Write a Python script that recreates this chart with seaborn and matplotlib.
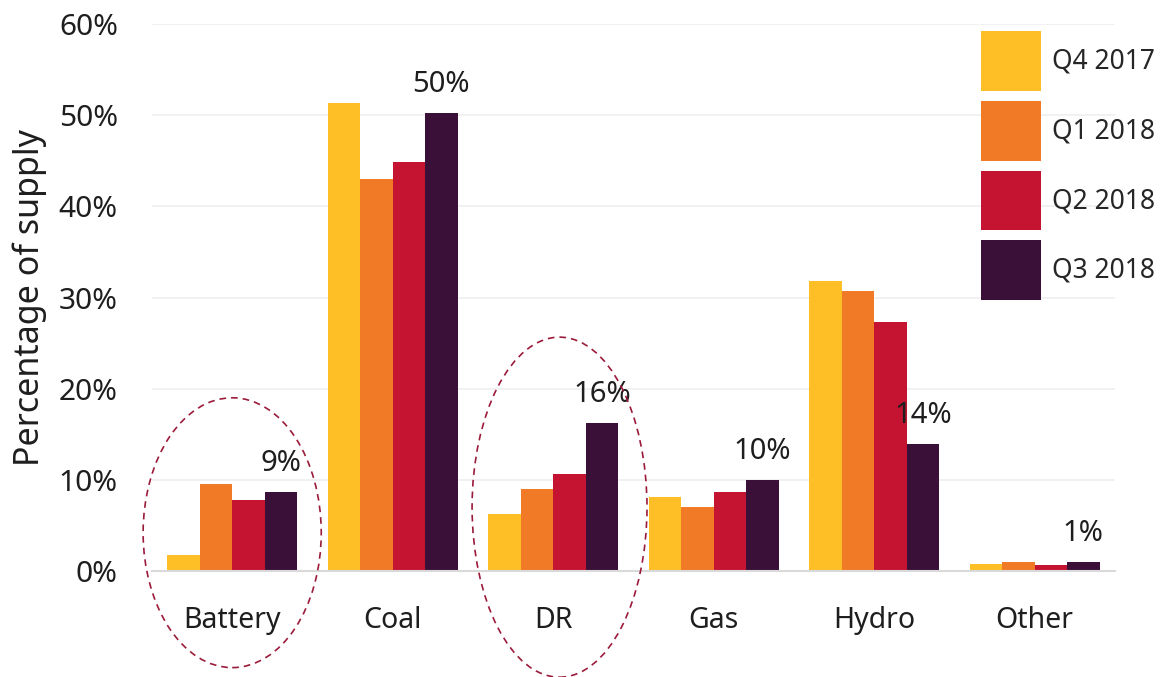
import matplotlib
matplotlib.use("Agg")
import matplotlib.pyplot as plt
from matplotlib.patches import Ellipse
import seaborn as sns
import pandas as pd

categories = ["Battery", "Coal", "DR", "Gas", "Hydro", "Other"]
periods = ["Q4 2017", "Q1 2018", "Q2 2018", "Q3 2018"]
q4_2017 = [1.7, 51.3, 6.3, 8.1, 31.8, 0.8]
q1_2018 = [9.5, 43.0, 9.0, 7.0, 30.7, 0.95]
q2_2018 = [7.8, 44.9, 10.6, 8.7, 27.3, 0.7]
q3_2018 = [8.7, 50.2, 16.2, 10.0, 13.9, 1.0]
colors = ["#FDBF25", "#F07A25", "#C41431", "#3A1038"]
yticks = [0, 10, 20, 30, 40, 50, 60]

series = [q4_2017, q1_2018, q2_2018, q3_2018]
rows = []
for p, vals in zip(periods, series):
    for c, v in zip(categories, vals):
        rows.append({"cat": c, "period": p, "val": v})
df = pd.DataFrame(rows)

sns.set_style("white")
plt.rcParams["font.family"] = ["Noto Sans", "DejaVu Sans"]

fig = plt.figure(figsize=(11.6, 6.77), dpi=100)
ax = fig.add_axes([0.131, 0.1566, 0.83, 0.8079])

sns.barplot(data=df, x="cat", y="val", hue="period", palette=colors,
            order=categories, hue_order=periods, width=0.81, saturation=1,
            linewidth=0, ax=ax, legend=True, errorbar=None)

txt = "#1E1E1E"
ax.set_ylim(0, 60)
ax.set_xlim(-0.5, len(categories) - 0.5)
ax.set_yticks(yticks)
ax.set_yticklabels([f"{t}%" for t in yticks], fontsize=21.5, color=txt)
ax.tick_params(axis="x", labelsize=20.5, colors=txt, length=0, pad=25)
ax.tick_params(axis="y", length=0, pad=24.5)
ax.set_xlabel("")
ax.set_ylabel("Percentage of supply", fontsize=24.5, color=txt)
ax.yaxis.label.set_va("center")
ax.yaxis.set_label_coords(-0.127, 0.5)
ax.yaxis.grid(True, color="#EFEFEF", linewidth=1.2)
ax.set_axisbelow(True)
for s in ["top", "right", "left"]:
    ax.spines[s].set_visible(False)
ax.spines["bottom"].set_color("#D9D9D9")
ax.spines["bottom"].set_linewidth(1.5)

labels = [f"{round(v)}%" for v in q3_2018]
ax.bar_label(ax.containers[3], labels=labels, padding=10, fontsize=21, color=txt)

for cx, cy, w, h in [(0.0, 4.2, 1.11, 29.6), (2.04, 7.0, 1.09, 37.3)]:
    e = Ellipse((cx, cy), w, h, fill=False, edgecolor="#9B1B3B", linestyle=(0, (4, 3)),
                linewidth=1.2, clip_on=False, zorder=5)
    ax.add_patch(e)

ax.legend(loc="upper left", bbox_to_anchor=(976 / 1160, 1 - 26 / 677),
          bbox_transform=fig.transFigure, frameon=False, fontsize=19,
          handlelength=2.27, handleheight=3.1, labelspacing=0.38,
          handletextpad=0.4, borderpad=0.2, borderaxespad=0)

fig.savefig("out.png", dpi=100)
